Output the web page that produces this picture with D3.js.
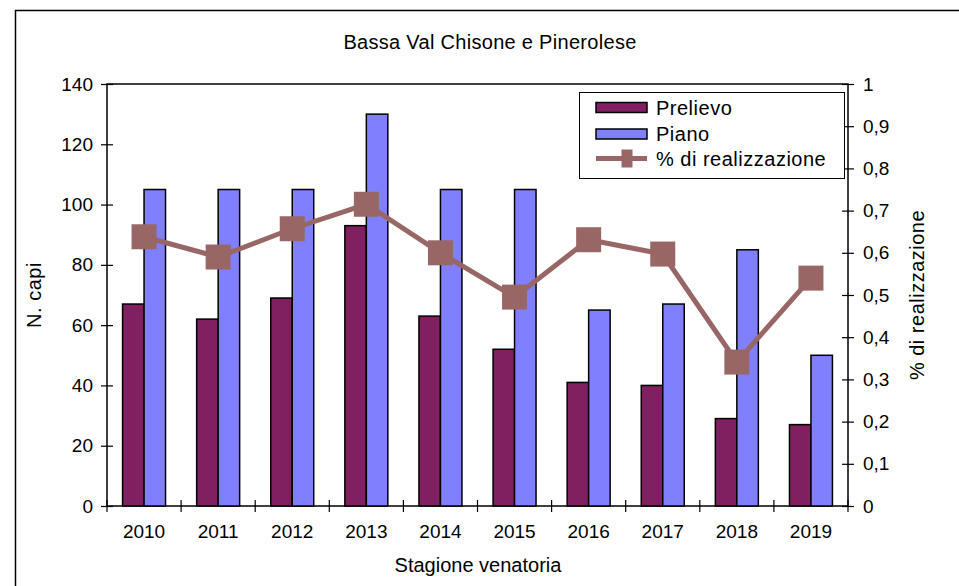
<!DOCTYPE html>
<html>
<head>
<meta charset="utf-8">
<script src="https://cdn.jsdelivr.net/npm/d3@7"></script>
<style>
    body { margin: 0; background: #fff; }
    svg { display: block; font-family: "Liberation Sans", Arial, sans-serif; }
</style>
</head>
<body>
<svg id="chart"></svg>
<script>

const years = ['2010', '2011', '2012', '2013', '2014', '2015', '2016', '2017', '2018', '2019']
const prelievo = [67, 62, 69, 93, 63, 52, 41, 40, 29, 27]
const piano = [105, 105, 105, 130, 105, 105, 65, 67, 85, 50]
const realizzazione = [0.638, 0.59, 0.657, 0.715, 0.6, 0.495, 0.631, 0.597, 0.341, 0.54]
const leftTicks = [0, 20, 40, 60, 80, 100, 120, 140]
const rightTicks = [0, 0.1, 0.2, 0.3, 0.4, 0.5, 0.6, 0.7, 0.8, 0.9, 1]

const svgw = 959
const svgh = 586
const plot = { left: 107, right: 848, top: 84, bottom: 506 }
const fontFamily = '"Liberation Sans", Arial, sans-serif'

const svg = d3.select('#chart')
    .attr('width', svgw)
    .attr('height', svgh)

// outer frame, right and bottom edges fall outside the picture
svg.append('rect')
    .attr('x', 15.5)
    .attr('y', 10.5)
    .attr('width', 1000)
    .attr('height', 700)
    .attr('fill', '#fff')
    .attr('stroke', '#000')
    .attr('stroke-width', 1.5)

const xScale = d3.scaleBand()
    .domain(years)
    .range([plot.left, plot.right])
    .padding(0)

const groupW = xScale.bandwidth() * 0.58
const xInner = d3.scaleBand()
    .domain(['prelievo', 'piano'])
    .range([0, groupW])

const yScale = d3.scaleLinear()
    .domain([0, 140])
    .range([plot.bottom, plot.top])

const y2Scale = d3.scaleLinear()
    .domain([0, 1])
    .range([plot.bottom, plot.top])

// plot area border
svg.append('rect')
    .attr('x', plot.left)
    .attr('y', plot.top)
    .attr('width', plot.right - plot.left)
    .attr('height', plot.bottom - plot.top)
    .attr('fill', 'none')
    .attr('stroke', '#000')
    .attr('stroke-width', 1.5)

const barGroup = svg.append('g')

const series = [
    { key: 'prelievo', values: prelievo, color: '#802060' },
    { key: 'piano', values: piano, color: '#8080ff' }
]

series.forEach(s => {
    barGroup.selectAll('rect.' + s.key)
        .data(s.values)
        .enter()
        .append('rect')
        .attr('class', s.key)
        .attr('x', (d, i) => xScale(years[i]) + (xScale.bandwidth() - groupW) / 2 + xInner(s.key))
        .attr('y', d => yScale(d))
        .attr('width', xInner.bandwidth())
        .attr('height', d => yScale(0) - yScale(d))
        .attr('fill', s.color)
        .attr('stroke', '#000')
        .attr('stroke-width', 1.5)
})

// axes
const xAxis = d3.axisBottom(xScale).tickSize(0).tickPadding(19)
const gx = svg.append('g')
    .attr('transform', `translate(0, ${plot.bottom})`)
    .call(xAxis)
gx.select('.domain').remove()
gx.selectAll('text')
    .attr('font-size', 19)
    .attr('fill', '#000')
    .attr('font-family', fontFamily)

// tick marks at band boundaries, crossing the axis
svg.append('g')
    .selectAll('line')
    .data(years.concat(['end']))
    .enter()
    .append('line')
    .attr('x1', (d, i) => i < years.length ? xScale(d) : plot.right)
    .attr('x2', (d, i) => i < years.length ? xScale(d) : plot.right)
    .attr('y1', plot.bottom - 6)
    .attr('y2', plot.bottom + 6)
    .attr('stroke', '#000')
    .attr('stroke-width', 1.2)

const yAxis = d3.axisLeft(yScale)
    .tickValues(leftTicks)
    .tickSize(12)
    .tickSizeOuter(0)
    .tickPadding(2)
const gy = svg.append('g')
    .attr('transform', `translate(${plot.left + 6}, 0)`)
    .call(yAxis)
gy.select('.domain').remove()
gy.selectAll('line').attr('stroke', '#000').attr('stroke-width', 1.2)
gy.selectAll('text')
    .attr('font-size', 19)
    .attr('fill', '#000')
    .attr('dx', -6)
    .attr('font-family', fontFamily)

const y2Axis = d3.axisRight(y2Scale)
    .tickValues(rightTicks)
    .tickSize(12)
    .tickSizeOuter(0)
    .tickPadding(3)
    .tickFormat(d => d3.format('.1~f')(d).replace('.', ','))
const gy2 = svg.append('g')
    .attr('transform', `translate(${plot.right - 6}, 0)`)
    .call(y2Axis)
gy2.select('.domain').remove()
gy2.selectAll('line').attr('stroke', '#000').attr('stroke-width', 1.2)
gy2.selectAll('text')
    .attr('font-size', 19)
    .attr('fill', '#000')
    .attr('dx', 6)
    .attr('font-family', fontFamily)

// line with square markers
const lineGroup = svg.append('g')

const pctLine = d3.line()
    .x((d, i) => xScale(years[i]) + xScale.bandwidth() / 2)
    .y(d => y2Scale(d))

lineGroup.append('path')
    .datum(realizzazione)
    .attr('d', pctLine)
    .attr('fill', 'none')
    .attr('stroke', '#996666')
    .attr('stroke-width', 5)

lineGroup.selectAll('rect')
    .data(realizzazione)
    .enter()
    .append('rect')
    .attr('x', (d, i) => xScale(years[i]) + xScale.bandwidth() / 2 - 12.5)
    .attr('y', d => y2Scale(d) - 12.5)
    .attr('width', 25)
    .attr('height', 25)
    .attr('fill', '#996666')

// titles
svg.append('text')
    .attr('x', 490)
    .attr('y', 49)
    .attr('text-anchor', 'middle')
    .attr('font-size', 20)
    .attr('letter-spacing', 0.3)
    .text('Bassa Val Chisone e Pinerolese')

svg.append('text')
    .attr('x', 478)
    .attr('y', 572)
    .attr('text-anchor', 'middle')
    .attr('font-size', 20)
    .text('Stagione venatoria')

svg.append('text')
    .attr('transform', `translate(41, ${(plot.top + plot.bottom) / 2}) rotate(-90)`)
    .attr('text-anchor', 'middle')
    .attr('font-size', 20)
    .attr('letter-spacing', 0.5)
    .text('N. capi')

svg.append('text')
    .attr('transform', `translate(924, ${(plot.top + plot.bottom) / 2}) rotate(-90)`)
    .attr('text-anchor', 'middle')
    .attr('font-size', 20)
    .attr('letter-spacing', 0.5)
    .text('% di realizzazione')

// legend
const legend = svg.append('g')

legend.append('rect')
    .attr('x', 579.5)
    .attr('y', 92.5)
    .attr('width', 265)
    .attr('height', 86)
    .attr('fill', '#fff')
    .attr('stroke', '#000')
    .attr('stroke-width', 1)

const legendRows = [
    { label: 'Prelievo', color: '#802060', y: 107.5 },
    { label: 'Piano', color: '#8080ff', y: 134 },
    { label: '% di realizzazione', color: '#996666', y: 158.5, line: true }
]

legendRows.forEach(r => {
    if (r.line) {
        legend.append('line')
            .attr('x1', 596)
            .attr('x2', 647)
            .attr('y1', r.y)
            .attr('y2', r.y)
            .attr('stroke', r.color)
            .attr('stroke-width', 5)
        legend.append('rect')
            .attr('x', 621.5)
            .attr('y', r.y - 9)
            .attr('width', 11)
            .attr('height', 18)
            .attr('fill', r.color)
    } else {
        legend.append('rect')
            .attr('x', 596)
            .attr('y', r.y - 5)
            .attr('width', 51)
            .attr('height', 10)
            .attr('fill', r.color)
            .attr('stroke', '#000')
            .attr('stroke-width', 1.5)
    }
    legend.append('text')
        .attr('x', 656)
        .attr('y', r.y + 7)
        .attr('font-size', 20)
        .attr('letter-spacing', 0.5)
        .text(r.label)
})

</script>
</body>
</html>
